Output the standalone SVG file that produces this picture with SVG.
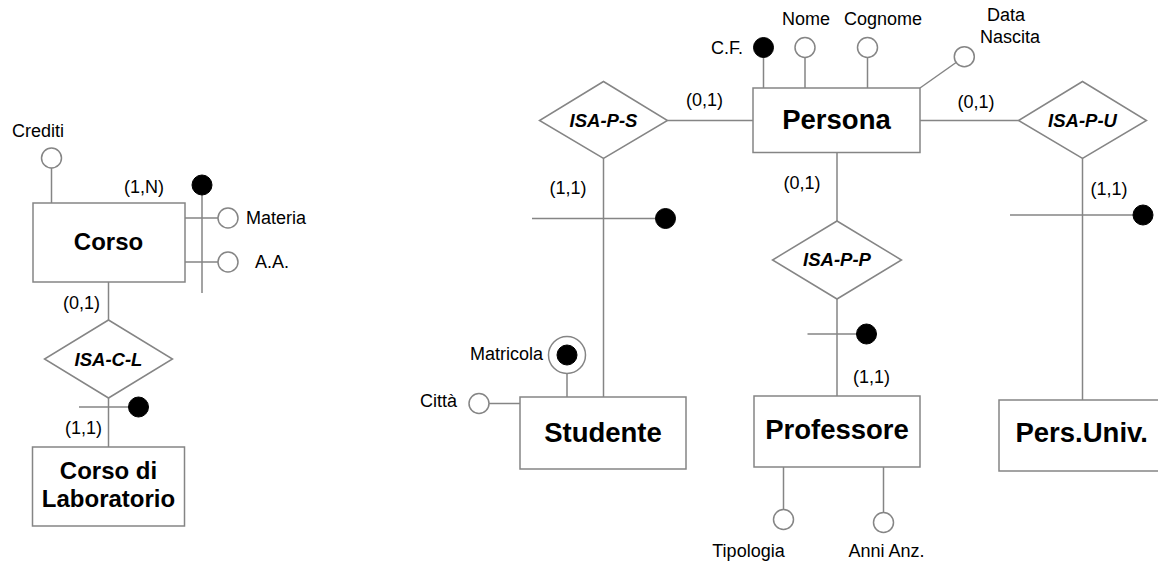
<svg xmlns="http://www.w3.org/2000/svg" width="1158" height="561" viewBox="0 0 1158 561">
<style>
.ln{stroke:#858585;stroke-width:1.5;fill:none}
.ent{fill:#fff;stroke:#858585;stroke-width:1.5}
.rel{fill:#fff;stroke:#858585;stroke-width:1.5}
.att{fill:#fff;stroke:#858585;stroke-width:1.5}
.key{fill:#000;stroke:#000;stroke-width:1}
.t{font-family:"Liberation Sans",Arial,sans-serif;font-size:18px;fill:#000}
.e{font-family:"Liberation Sans",Arial,sans-serif;font-size:27.5px;font-weight:bold;fill:#000;text-anchor:middle}
.e2{font-family:"Liberation Sans",Arial,sans-serif;font-size:24px;font-weight:bold;fill:#000;text-anchor:middle}
.r{font-family:"Liberation Sans",Arial,sans-serif;font-size:18.5px;font-weight:bold;font-style:italic;fill:#000;text-anchor:middle}
.m{text-anchor:middle}
.end{text-anchor:end}
</style>
<rect width="1158" height="561" fill="#fff"/>
<g id="connectors">
<line class="ln" x1="51.5" y1="168" x2="51.5" y2="203"/>
<line class="ln" x1="202" y1="185" x2="202" y2="293"/>
<line class="ln" x1="185" y1="218" x2="218" y2="218"/>
<line class="ln" x1="185" y1="262" x2="218" y2="262"/>
<line class="ln" x1="108.5" y1="282" x2="108.5" y2="320"/>
<line class="ln" x1="108.5" y1="398" x2="108.5" y2="447"/>
<line class="ln" x1="79" y1="407" x2="138.5" y2="407"/>
<line class="ln" x1="763.5" y1="47.5" x2="763.5" y2="88"/>
<line class="ln" x1="805" y1="57.5" x2="805" y2="88"/>
<line class="ln" x1="867.5" y1="57.5" x2="867.5" y2="88"/>
<line class="ln" x1="920" y1="88" x2="956.1" y2="62.5"/>
<line class="ln" x1="667.5" y1="120.5" x2="753" y2="120.5"/>
<line class="ln" x1="920" y1="120.5" x2="1018.5" y2="120.5"/>
<line class="ln" x1="837" y1="152.5" x2="837" y2="221"/>
<line class="ln" x1="837" y1="299" x2="837" y2="396"/>
<line class="ln" x1="807.5" y1="334" x2="866.5" y2="334"/>
<line class="ln" x1="603.5" y1="158.5" x2="603.5" y2="397"/>
<line class="ln" x1="532" y1="218.5" x2="665.5" y2="218.5"/>
<line class="ln" x1="567" y1="373.5" x2="567" y2="397"/>
<line class="ln" x1="489" y1="403.5" x2="520" y2="403.5"/>
<line class="ln" x1="1082.5" y1="158.5" x2="1082.5" y2="400"/>
<line class="ln" x1="1010" y1="215" x2="1143" y2="215"/>
<line class="ln" x1="783.5" y1="467" x2="783.5" y2="509.5"/>
<line class="ln" x1="883.5" y1="467" x2="883.5" y2="512.5"/>
</g>
<g id="labels">
<text class="t m" x="144" y="193">(1,N)</text>
<text class="t m" x="81.5" y="309">(0,1)</text>
<text class="t m" x="83.5" y="434">(1,1)</text>
<text class="t m" x="704.5" y="106">(0,1)</text>
<text class="t m" x="976" y="107.5">(0,1)</text>
<text class="t m" x="802" y="189">(0,1)</text>
<text class="t m" x="568" y="194">(1,1)</text>
<text class="t m" x="1109" y="195">(1,1)</text>
<text class="t m" x="871.5" y="383">(1,1)</text>
</g>
<g id="attr-crediti"><circle class="att" cx="51.5" cy="158" r="10"/><text class="t" x="12" y="137">Crediti</text></g>
<g id="id-corso"><circle class="key" cx="202" cy="185" r="10"/></g>
<g id="attr-materia"><circle class="att" cx="228" cy="218" r="10"/><text class="t" x="246" y="224">Materia</text></g>
<g id="attr-aa"><circle class="att" cx="228" cy="262" r="10"/><text class="t" x="255" y="268">A.A.</text></g>
<g id="corso"><rect class="ent" x="33" y="203" width="152" height="79"/><text class="e2" x="108.5" y="249.5">Corso</text></g>
<g id="isa-c-l"><polygon class="rel" points="108.5,320 172.5,359 108.5,398 44.5,359"/><text class="r" x="108.5" y="365.5">ISA-C-L</text></g>
<g id="id-isa-c-l"><circle class="key" cx="138.5" cy="407" r="10"/></g>
<g id="corso-lab"><rect class="ent" x="32.5" y="447" width="152" height="79"/><text class="e2" x="108.5" y="478.5">Corso di</text><text class="e2" x="108.5" y="506.5">Laboratorio</text></g>
<g id="persona"><rect class="ent" x="753" y="88" width="167" height="64.5"/><text class="e" x="836.5" y="128.5">Persona</text></g>
<g id="attr-cf"><circle class="key" cx="763.5" cy="47.5" r="10"/><text class="t end" x="743" y="54">C.F.</text></g>
<g id="attr-nome"><circle class="att" cx="805" cy="47.5" r="10"/><text class="t m" x="806" y="24.5">Nome</text></g>
<g id="attr-cognome"><circle class="att" cx="867.5" cy="47.5" r="10"/><text class="t m" x="883" y="24.5">Cognome</text></g>
<g id="attr-datanascita"><circle class="att" cx="964.3" cy="56.7" r="10"/><text class="t m" x="1006" y="21">Data</text><text class="t m" x="1010" y="43">Nascita</text></g>
<g id="isa-p-s"><polygon class="rel" points="603.5,81.5 667.5,120.5 603.5,158.5 539.5,120.5"/><text class="r" x="603.5" y="126.7">ISA-P-S</text></g>
<g id="isa-p-u"><polygon class="rel" points="1082.5,81.5 1146.5,120.5 1082.5,158.5 1018.5,120.5"/><text class="r" x="1082.5" y="126.7">ISA-P-U</text></g>
<g id="isa-p-p"><polygon class="rel" points="837,221 901.5,260 837,299 772.5,260"/><text class="r" x="837" y="266">ISA-P-P</text></g>
<g id="id-isa-p-s"><circle class="key" cx="665.5" cy="218.5" r="10"/></g>
<g id="id-isa-p-p"><circle class="key" cx="866.5" cy="334" r="10"/></g>
<g id="id-isa-p-u"><circle class="key" cx="1143" cy="215" r="10"/></g>
<g id="attr-matricola"><circle class="att" cx="567" cy="355" r="18.5"/><circle class="key" cx="567" cy="355" r="10"/><text class="t end" x="543" y="360">Matricola</text></g>
<g id="attr-citta"><circle class="att" cx="479" cy="403.5" r="10"/><text class="t end" x="457" y="406.7">Città</text></g>
<g id="studente"><rect class="ent" x="520" y="397" width="166" height="72"/><text class="e" x="603" y="441.5">Studente</text></g>
<g id="professore"><rect class="ent" x="754" y="396" width="166" height="71"/><text class="e" x="837" y="439">Professore</text></g>
<g id="persuniv"><rect class="ent" x="999" y="400" width="166" height="71"/><text class="e" x="1081.7" y="442.3">Pers.Univ.</text></g>
<g id="attr-tipologia"><circle class="att" cx="783.5" cy="519.5" r="10"/><text class="t m" x="748.5" y="556.7">Tipologia</text></g>
<g id="attr-anni"><circle class="att" cx="883.5" cy="522.5" r="10"/><text class="t m" x="886.5" y="557">Anni Anz.</text></g>
</svg>
